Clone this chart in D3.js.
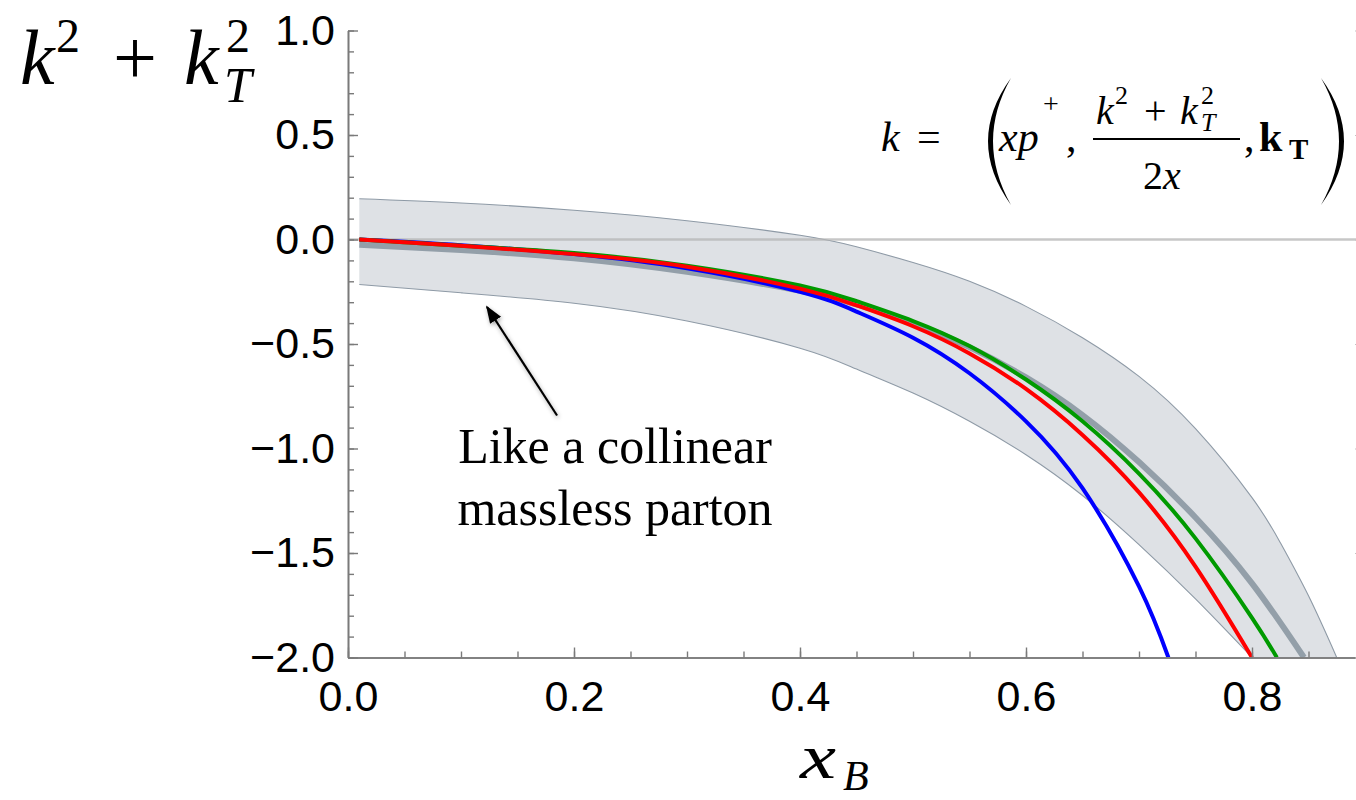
<!DOCTYPE html>
<html>
<head>
<meta charset="utf-8">
<script src="https://cdn.jsdelivr.net/npm/d3@7"></script>
<style>
body{margin:0;background:#fff;}
svg{display:block;}
.tick text{font-family:"Liberation Sans",Arial,sans-serif;font-size:43px;fill:#000;}
.math{font-family:"Liberation Serif","Times New Roman",serif;fill:#000;}
</style>
</head>
<body>
<svg id="chart" width="1356" height="800"></svg>
<script>
// values (x_B, k^2 + k_T^2)
var xBlue  = [0.01, 0.1, 0.2, 0.3, 0.4, 0.45, 0.5, 0.55, 0.6, 0.65, 0.7, 0.726];
var yBlue  = [0, -0.027, -0.07, -0.138, -0.25, -0.345, -0.47, -0.64, -0.87, -1.19, -1.66, -2.0];
var xRed   = [0.01, 0.1, 0.2, 0.3, 0.4, 0.45, 0.5, 0.55, 0.6, 0.65, 0.7, 0.75, 0.8];
var yRed   = [0, -0.03, -0.07, -0.13, -0.235, -0.315, -0.415, -0.545, -0.715, -0.935, -1.21, -1.565, -2.0];
var xGreen = [0.01, 0.1, 0.2, 0.3, 0.4, 0.45, 0.5, 0.55, 0.6, 0.65, 0.7, 0.75, 0.8, 0.822];
var yGreen = [0, -0.03, -0.065, -0.125, -0.22, -0.295, -0.39, -0.51, -0.67, -0.87, -1.12, -1.43, -1.81, -2.0];
var xGray  = [0.01, 0.1, 0.2, 0.3, 0.4, 0.45, 0.5, 0.55, 0.6, 0.65, 0.7, 0.75, 0.8, 0.846];
var yGray  = [-0.025, -0.05, -0.09, -0.155, -0.245, -0.31, -0.40, -0.515, -0.66, -0.84, -1.065, -1.33, -1.645, -2.0];
// grey band
var xUpper = [0.01, 0.1, 0.2, 0.3, 0.4, 0.45, 0.5, 0.55, 0.6, 0.65, 0.7, 0.75, 0.8, 0.825, 0.85, 0.875];
var yUpper = [0.195, 0.175, 0.14, 0.09, 0.02, -0.035, -0.11, -0.20, -0.32, -0.47, -0.655, -0.905, -1.235, -1.45, -1.705, -2.0];
var xLower = [0.01, 0.1, 0.2, 0.3, 0.4, 0.45, 0.5, 0.55, 0.6, 0.65, 0.7, 0.75, 0.8];
var yLower = [-0.215, -0.255, -0.305, -0.39, -0.52, -0.62, -0.735, -0.87, -1.03, -1.225, -1.46, -1.72, -2.0];

var xTicks = [0, 0.2, 0.4, 0.6, 0.8];
var yTicks = [-2, -1.5, -1, -0.5, 0, 0.5, 1];
var arrowFrom = [0.185, -0.842];
var arrowTo = [0.123, -0.323];
var noteLines = ["Like a collinear", "massless parton"];

var svg = d3.select("#chart");
var x = d3.scaleLinear().domain([0, 0.9]).range([348, 1365]);
var y = d3.scaleLinear().domain([-2, 1]).range([657.5, 30.5]);

var defs = svg.append("defs");
defs.append("clipPath").attr("id", "plot")
	.append("rect").attr("x", x(0)).attr("y", y(1)).attr("width", 1356 - x(0)).attr("height", y(-2) - y(1));
defs.append("marker").attr("id", "head")
	.attr("viewBox", "0 0 10 10").attr("refX", 9).attr("refY", 5)
	.attr("markerWidth", 8).attr("markerHeight", 8).attr("orient", "auto")
	.append("path").attr("d", "M0,1.3L10,5L0,8.7z").attr("fill", "#000");
var shadow = defs.append("filter").attr("id", "shadow").attr("x", "-50%").attr("y", "-50%").attr("width", "200%").attr("height", "200%");
shadow.append("feDropShadow").attr("dx", 1).attr("dy", 2).attr("stdDeviation", 2).attr("flood-color", "#000").attr("flood-opacity", 0.35);

var line = d3.line()
	.x(function(d) { return x(d[0]); })
	.y(function(d) { return y(d[1]); })
	.curve(d3.curveNatural);

var g = svg.append("g").attr("clip-path", "url(#plot)");

// band: upper edge forward, lower edge back
var up = d3.zip(xUpper, yUpper);
var lo = d3.zip(xLower, yLower);
var bandD = line(up) + "L" + line(lo.slice().reverse()).slice(1) + "Z";
g.append("path").attr("d", bandD).attr("fill", "#dee1e5").attr("stroke", "none");
g.append("path").attr("d", line(up)).attr("fill", "none").attr("stroke", "#8e9aa6").attr("stroke-width", 1.1);
g.append("path").attr("d", line(lo)).attr("fill", "none").attr("stroke", "#8e9aa6").attr("stroke-width", 1.1);

// zero line
g.append("line")
	.attr("x1", x(0)).attr("x2", 1356)
	.attr("y1", y(0)).attr("y2", y(0))
	.attr("stroke", "#b4b4b4").attr("stroke-opacity", 0.75).attr("stroke-width", 2.5);

var series = [
	{xs: xGray, ys: yGray, color: "#939fa9", w: 6},
	{xs: xBlue, ys: yBlue, color: "#0000ff", w: 4},
	{xs: xGreen, ys: yGreen, color: "#009a00", w: 4},
	{xs: xRed, ys: yRed, color: "#ff0000", w: 4}
];
series.forEach(function(s) {
	g.append("path")
		.attr("d", line(d3.zip(s.xs, s.ys)))
		.attr("fill", "none")
		.attr("stroke", s.color)
		.attr("stroke-width", s.w);
});

// axes
function styleAxis(sel) {
	sel.selectAll("path.domain").attr("stroke", "#7a7a7a").attr("stroke-width", 1.6);
	sel.selectAll(".tick line").attr("stroke", "#7a7a7a").attr("stroke-width", 1.4);
}
var fmt = d3.format(".1f");

svg.append("g").attr("transform", "translate(" + x(0) + ",0)")
	.call(d3.axisLeft(y).tickValues(y.ticks(30)).tickSizeInner(-6).tickSizeOuter(0).tickFormat(""))
	.call(styleAxis);
svg.append("g").attr("transform", "translate(" + x(0) + ",0)")
	.call(d3.axisLeft(y).tickValues(yTicks).tickSizeInner(-10).tickSizeOuter(0).tickPadding(13).tickFormat(fmt))
	.call(styleAxis);

svg.append("g").attr("transform", "translate(0," + y(-2) + ")")
	.call(d3.axisBottom(x).tickValues(x.ticks(18)).tickSizeInner(-6).tickSizeOuter(0).tickFormat(""))
	.call(styleAxis);
svg.append("g").attr("transform", "translate(0," + y(-2) + ")")
	.call(d3.axisBottom(x).tickValues(xTicks).tickSizeInner(-10).tickSizeOuter(0).tickPadding(23).tickFormat(fmt))
	.call(styleAxis);

// right frame, only tick tips visible at the edge
var right = svg.append("g").attr("transform", "translate(" + x(0.9) + ",0)")
	.call(d3.axisRight(y).tickValues(yTicks).tickSizeInner(-10).tickSizeOuter(0).tickFormat(""));
right.selectAll("path.domain").remove();
right.selectAll(".tick line").attr("stroke", "#c4c4c4").attr("stroke-width", 1.2);

// arrow + note
svg.append("line")
	.attr("x1", x(arrowFrom[0])).attr("y1", y(arrowFrom[1]))
	.attr("x2", x(arrowTo[0])).attr("y2", y(arrowTo[1]))
	.attr("stroke", "#000").attr("stroke-width", 2.2)
	.attr("marker-end", "url(#head)")
	.attr("filter", "url(#shadow)");

svg.selectAll("text.note").data(noteLines).enter().append("text")
	.attr("class", "math note")
	.attr("x", 615)
	.attr("y", function(d, i) { return 463 + i * 62; })
	.attr("text-anchor", "middle")
	.attr("font-size", 50)
	.text(function(d) { return d; });

// y label: k^2 + k_T^2
var yl = svg.append("g").attr("class", "math");
yl.append("text").attr("x", 20).attr("y", 84).attr("font-size", 78).attr("font-style", "italic").text("k");
yl.append("text").attr("x", 56).attr("y", 52).attr("font-size", 48).text("2");
yl.append("text").attr("x", 113).attr("y", 84).attr("font-size", 78).text("+");
yl.append("text").attr("x", 184).attr("y", 84).attr("font-size", 78).attr("font-style", "italic").text("k");
yl.append("text").attr("x", 226).attr("y", 52).attr("font-size", 48).text("2");
yl.append("text").attr("x", 224).attr("y", 102).attr("font-size", 50).attr("font-style", "italic").text("T");

// x label: x_B
var xl = svg.append("g").attr("class", "math");
xl.append("text").attr("x", 800).attr("y", 778).attr("font-size", 64).attr("font-style", "italic")
	.attr("textLength", 36).attr("lengthAdjust", "spacingAndGlyphs").text("x");
xl.append("text").attr("x", 843).attr("y", 790).attr("font-size", 42).attr("font-style", "italic").text("B");

// formula  k = ( xp+, (k^2+k_T^2)/2x, kT )
var f = svg.append("g").attr("class", "math");
f.append("text").attr("x", 881).attr("y", 151).attr("font-size", 42).attr("font-style", "italic").text("k");
f.append("text").attr("x", 917).attr("y", 151).attr("font-size", 42).text("=");
f.append("path").attr("d", "M1011,78Q965,141 1011,205Q975,141 1011,78Z").attr("fill", "#000");
f.append("path").attr("d", "M1321,78Q1367,141 1321,205Q1357,141 1321,78Z").attr("fill", "#000");
f.append("text").attr("x", 999).attr("y", 151).attr("font-size", 42).attr("font-style", "italic").text("xp");
f.append("text").attr("x", 1043).attr("y", 113).attr("font-size", 28).text("+");
f.append("text").attr("x", 1066).attr("y", 151).attr("font-size", 42).text(",");
f.append("text").attr("x", 1096).attr("y", 124).attr("font-size", 40).attr("font-style", "italic").text("k");
f.append("text").attr("x", 1115).attr("y", 104).attr("font-size", 26).text("2");
f.append("text").attr("x", 1144).attr("y", 124).attr("font-size", 40).text("+");
f.append("text").attr("x", 1180).attr("y", 124).attr("font-size", 40).attr("font-style", "italic").text("k");
f.append("text").attr("x", 1201).attr("y", 104).attr("font-size", 26).text("2");
f.append("text").attr("x", 1201).attr("y", 131).attr("font-size", 26).attr("font-style", "italic").text("T");
f.append("line").attr("x1", 1093).attr("x2", 1240).attr("y1", 139).attr("y2", 139).attr("stroke", "#000").attr("stroke-width", 1.8);
f.append("text").attr("x", 1143).attr("y", 189).attr("font-size", 40).text("2");
f.append("text").attr("x", 1163).attr("y", 189).attr("font-size", 40).attr("font-style", "italic").text("x");
f.append("text").attr("x", 1244).attr("y", 151).attr("font-size", 42).text(",");
f.append("text").attr("x", 1259).attr("y", 151).attr("font-size", 42).attr("font-weight", "bold").text("k");
f.append("text").attr("x", 1289).attr("y", 159).attr("font-size", 29).attr("font-weight", "bold").text("T");
</script>
</body>
</html>
